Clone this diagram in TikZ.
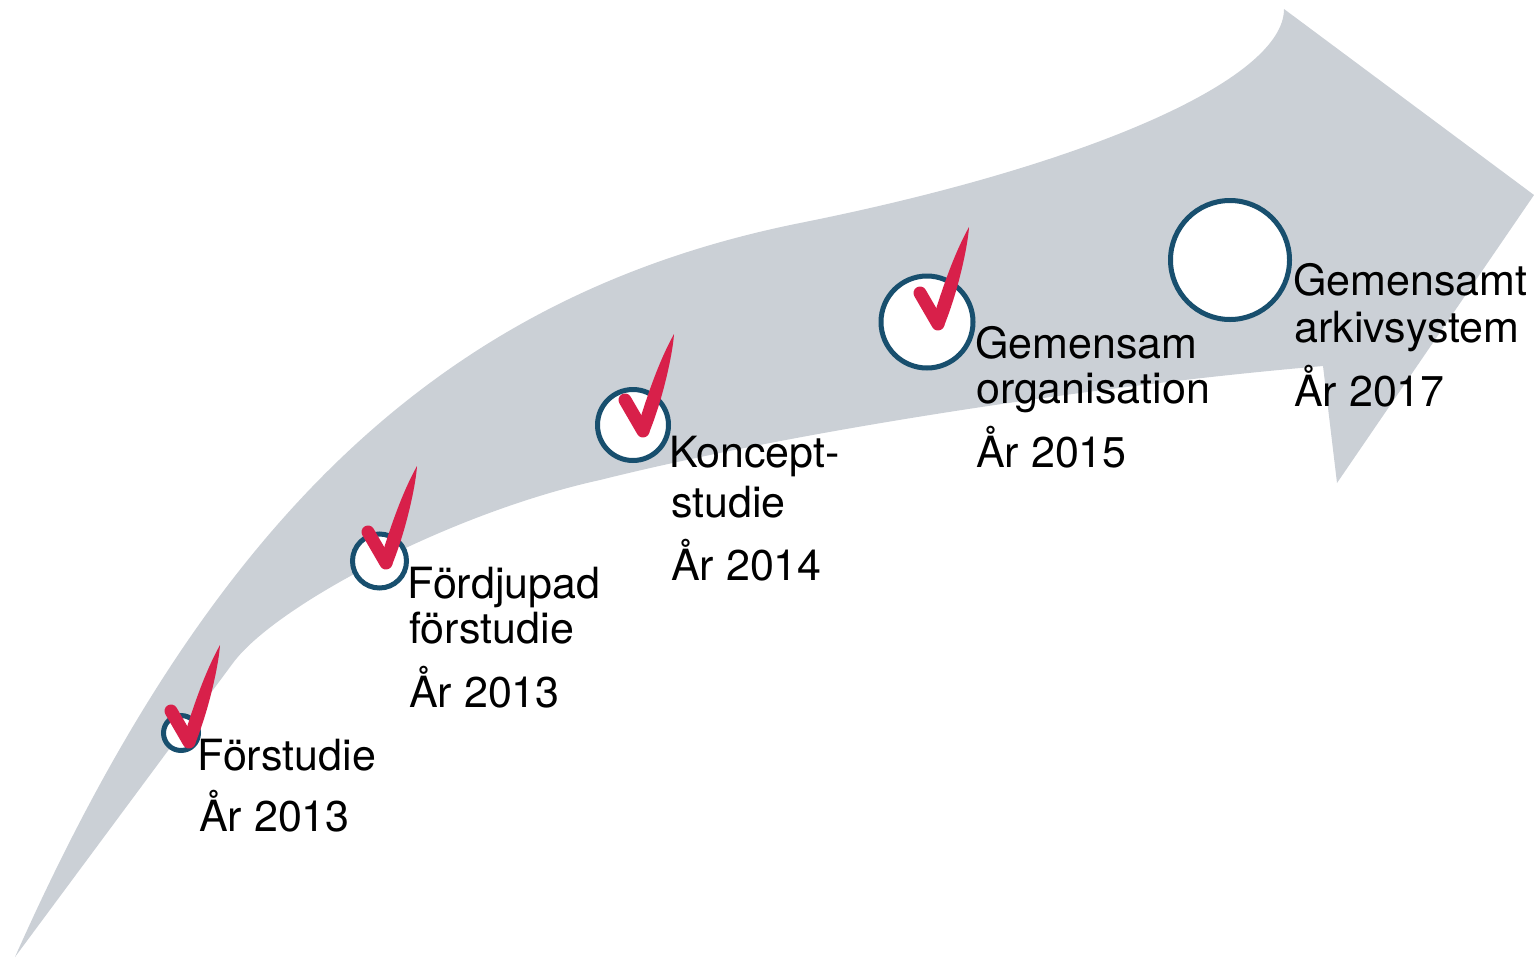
\documentclass[tikz,border=0pt]{standalone}
\usepackage{fontspec}
\setmainfont{TeX Gyre Heros}
\definecolor{band}{RGB}{203,208,214}
\definecolor{ring}{RGB}{24,79,110}
\definecolor{tick}{RGB}{216,32,74}
\tikzset{
  milestone/.style={circle, draw=ring, line width=5pt, fill=white, inner sep=0pt},
  lbl/.style={anchor=base west, inner sep=0pt, font=\fontsize{43}{46}\selectfont},
  checkmark/.pic={
    \fill[tick] (-6,-2) .. controls (4,-35) and (16,-70) .. (31,-97)
                .. controls (30,-80) and (21,-35) .. (6,2) -- cycle;
    \draw[tick, line width=13pt, line cap=round] (-18,-31) -- (0,0);
  }
}
\begin{document}
\begin{tikzpicture}[x=1pt, y=-1pt]
\useasboundingbox (0,0) rectangle (1534,959);
% band arrow
\fill[band] (15,957) .. controls (212,514) and (447,294) .. (800,223)
  .. controls (1090,165) and (1284,79) .. (1284,9)
  -- (1534,195) -- (1337,483) -- (1323,366)
  .. controls (1100,385) and (800,430) .. (600,480)
  .. controls (450,513) and (275,606) .. (233,663)
  -- cycle;
% milestones
\node[milestone, minimum size=35pt] (m1) at (181,733) {};
\node[milestone, minimum size=54pt] (m2) at (379.5,561) {};
\node[milestone, minimum size=71pt] (m3) at (633,425) {};
\node[milestone, minimum size=92pt] (m4) at (927,322) {};
\node[milestone, minimum size=119pt] (m5) at (1230,260) {};
% checks
\pic at (189,742) {checkmark};
\pic at (386,563) {checkmark};
\pic at (643,431) {checkmark};
\pic at (938,324) {checkmark};
% labels
\node[lbl] (l1a) at (197,770) {Förstudie};
\node[lbl] (l1b) at (199,831) {År 2013};
\node[lbl] (l2a) at (407,598) {Fördjupad};
\node[lbl] (l2b) at (409,643) {förstudie};
\node[lbl] (l2c) at (409,707) {År 2013};
\node[lbl] (l3a) at (669,467) {Koncept-};
\node[lbl] (l3b) at (671,517) {studie};
\node[lbl] (l3c) at (671,580) {År 2014};
\node[lbl] (l4a) at (975,358) {Gemensam};
\node[lbl] (l4b) at (976,403) {organisation};
\node[lbl] (l4c) at (976,467) {År 2015};
\node[lbl] (l5a) at (1293,295) {Gemensamt};
\node[lbl] (l5b) at (1294,342) {arkivsystem};
\node[lbl] (l5c) at (1294,406) {År 2017};
\end{tikzpicture}
\end{document}
